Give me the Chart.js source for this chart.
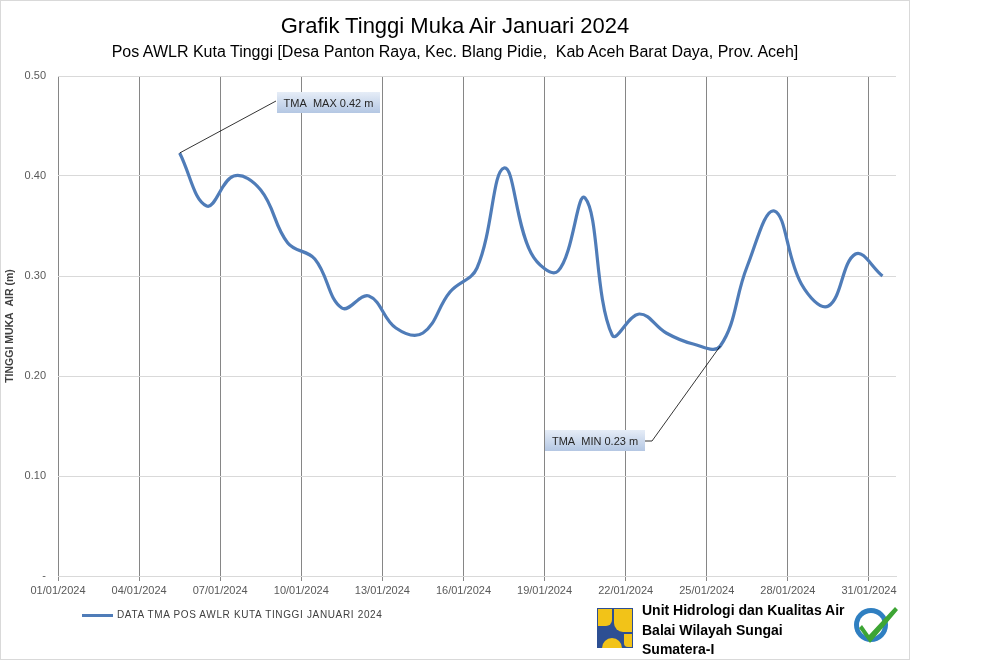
<!DOCTYPE html>
<html>
<head>
<meta charset="utf-8">
<script src="https://cdn.jsdelivr.net/npm/chart.js@4.4.1/dist/chart.umd.min.js"></script>
<style>
  html, body { margin:0; padding:0; background:#fff; }
  #wrap { position:relative; width:984px; height:661px; overflow:hidden; }
  #frame { position:absolute; left:0; top:0; width:908px; height:658px; border:1px solid #d9d9d9; }
  canvas { position:absolute; left:0; top:0; }
  .t { position:absolute; white-space:nowrap; color:#000; }
  #title { left:0; width:910px; text-align:center; top:13px; font:22px "Liberation Sans",sans-serif; }
  #subtitle { left:0; width:910px; text-align:center; top:43px; font:16px "Liberation Sans",sans-serif; }
  #legend { left:82px; top:609px; font:10px "Liberation Sans",sans-serif; color:#404040; letter-spacing:0.65px; }
  #legend span.ln { display:inline-block; width:31px; height:3px; background:#4f7cb8; vertical-align:middle; margin-right:4px; }
  #unit { left:642px; top:601px; font:bold 14px "Liberation Sans",sans-serif; line-height:19.5px; color:#000; }
  #logo { position:absolute; left:597px; top:608px; }
  #badge { position:absolute; left:851px; top:603px; }
</style>
</head>
<body>
<div id="wrap">
  <div id="frame"></div>
  <canvas id="c" width="984" height="661"></canvas>
  <div class="t" id="title">Grafik Tinggi Muka Air Januari 2024</div>
  <div class="t" id="subtitle">Pos AWLR Kuta Tinggi [Desa Panton Raya, Kec. Blang Pidie,&nbsp; Kab Aceh Barat Daya, Prov. Aceh]</div>
  <div class="t" id="legend"><span class="ln"></span>DATA TMA POS AWLR KUTA TINGGI JANUARI 2024</div>
  <svg id="logo" width="36" height="40" viewBox="0 0 36 40">
    <rect x="0" y="0" width="36" height="40" fill="#2d4f93"/>
    <path d="M1 1 H15 V12 A6 6 0 0 1 9 18 H1 Z" fill="#f2c318"/>
    <path d="M17 1 H35 V24 H26 A9 9 0 0 1 17 15 Z" fill="#f2c318"/>
    <path d="M5 40 A10 10 0 0 1 25 40 Z" fill="#f2c318"/>
    <path d="M27 26 H35 V39 H31 A4 4 0 0 1 27 35 Z" fill="#f2c318"/>
  </svg>
  <div class="t" id="unit">Unit Hidrologi dan Kualitas Air<br>Balai Wilayah Sungai<br>Sumatera-I</div>
  <svg id="badge" width="50" height="44" viewBox="0 0 50 44">
    <circle cx="20" cy="22" r="17" fill="#2f7fc1"/>
    <circle cx="20" cy="22" r="12" fill="#fff"/>
    <path d="M11 22 L18 32 L44 4 L47 7 L19 40 L8 25 Z" fill="#3da534"/>
  </svg>
</div>
<script>
// ---- data ----
const dayOfMonth = [5.5, 6.5, 7.5, 8.5, 9.5, 10.5, 11.5, 12.5, 13.5, 14.5, 15.5, 16.5, 17.5, 18.5,
                    19.5, 20.5, 21.5, 22.5, 23.5, 24.5, 25.5, 26.5, 27.5, 28.5, 29.5, 30.5, 31.5];
const tma = [0.423, 0.370, 0.400, 0.386, 0.333, 0.317, 0.268, 0.280, 0.248, 0.243, 0.284, 0.308, 0.408, 0.323,
             0.305, 0.378, 0.241, 0.262, 0.243, 0.232, 0.230, 0.310, 0.365, 0.292, 0.270, 0.322, 0.300];
const dayTicks = [1, 4, 7, 10, 13, 16, 19, 22, 25, 28, 31];
const dayTickLabels = ['01/01/2024','04/01/2024','07/01/2024','10/01/2024','13/01/2024','16/01/2024',
                       '19/01/2024','22/01/2024','25/01/2024','28/01/2024','31/01/2024'];
const yTicks = [0, 0.1, 0.2, 0.3, 0.4, 0.5];
const yTickLabels = ['-', '0.10', '0.20', '0.30', '0.40', '0.50'];
const seriesName = 'DATA TMA POS AWLR KUTA TINGGI JANUARI 2024';

const lineColor = '#4f7cb8';
const tickFont = { family: '"Liberation Sans", sans-serif', size: 11 };

function drawCallout(ctx, px, py, ax, ay, bx, by, bw, bh, text) {
  ctx.save();
  ctx.strokeStyle = '#000';
  ctx.lineWidth = 0.8;
  ctx.beginPath();
  ctx.moveTo(px, py);
  ctx.lineTo(ax, ay);
  ctx.stroke();
  const g = ctx.createLinearGradient(0, by, 0, by + bh);
  g.addColorStop(0, '#e6edf7');
  g.addColorStop(1, '#b4c7e3');
  ctx.fillStyle = g;
  ctx.fillRect(bx, by, bw, bh);
  ctx.fillStyle = '#262626';
  ctx.font = '11px "Liberation Sans", sans-serif';
  ctx.textBaseline = 'middle';
  ctx.textAlign = 'center';
  ctx.fillText(text, bx + bw / 2, by + bh / 2 + 1);
  ctx.restore();
}

const calloutPlugin = {
  id: 'callouts',
  afterDatasetsDraw(chart) {
    const xs = chart.scales.x, ys = chart.scales.y, ctx = chart.ctx;
    const maxV = Math.max(...tma), minV = Math.min(...tma);
    const iMax = tma.indexOf(maxV), iMin = tma.indexOf(minV);
    const pxMax = xs.getPixelForValue(dayOfMonth[iMax]), pyMax = ys.getPixelForValue(tma[iMax]);
    const pxMin = xs.getPixelForValue(dayOfMonth[iMin]), pyMin = ys.getPixelForValue(tma[iMin]);
    ctx.save();
    drawCallout(ctx, pxMax, pyMax, 276, 101, 277, 92, 103, 21, 'TMA  MAX ' + maxV.toFixed(2) + ' m');
    drawCallout(ctx, pxMin, pyMin, 652, 441, 545, 430, 100, 21, 'TMA  MIN ' + minV.toFixed(2) + ' m');
    ctx.strokeStyle = '#000'; ctx.lineWidth = 0.8;
    ctx.beginPath(); ctx.moveTo(652, 441); ctx.lineTo(645, 441); ctx.stroke();
    ctx.restore();
  }
};

new Chart(document.getElementById('c'), {
  type: 'line',
  data: {
    datasets: [{
      label: seriesName,
      data: dayOfMonth.map((d, i) => ({ x: d, y: tma[i] })),
      borderColor: lineColor,
      backgroundColor: lineColor,
      borderWidth: 3.2,
      pointRadius: 0,
      tension: 0.4,
      fill: false
    }]
  },
  options: {
    responsive: false,
    animation: false,
    layout: { padding: { left: 0, top: 76, right: 88, bottom: 55 } },
    plugins: { legend: { display: false }, title: { display: false }, tooltip: { enabled: false } },
    scales: {
      x: {
        type: 'linear', min: 1, max: 32,
        afterBuildTicks: s => { s.ticks = dayTicks.map(v => ({ value: v })); },
        afterFit: s => { s.height = 30; },
        ticks: {
          callback: v => dayTickLabels[dayTicks.indexOf(v)],
          autoSkip: false, maxRotation: 0, minRotation: 0,
          color: '#595959', font: tickFont, padding: 3
        },
        grid: { color: '#868686', lineWidth: 1, drawTicks: true, tickLength: 5, tickColor: '#868686' },
        border: { display: true, color: '#d9d9d9' }
      },
      y: {
        min: 0, max: 0.5,
        afterBuildTicks: s => { s.ticks = yTicks.map(v => ({ value: v })); },
        afterFit: s => { s.width = 58; },
        ticks: {
          callback: v => yTickLabels[yTicks.findIndex(t => Math.abs(t - v) < 1e-9)],
          color: '#595959', font: tickFont, padding: 12
        },
        grid: { color: '#d9d9d9', drawTicks: false },
        border: { display: false },
        title: {
          display: true, text: 'TINGGI MUKA  AIR (m)', color: '#404040',
          font: { family: '"Liberation Sans", sans-serif', size: 10.5, weight: 'bold' },
          padding: { top: 4, bottom: 0 }
        }
      }
    }
  },
  plugins: [calloutPlugin]
});
</script>
</body>
</html>
